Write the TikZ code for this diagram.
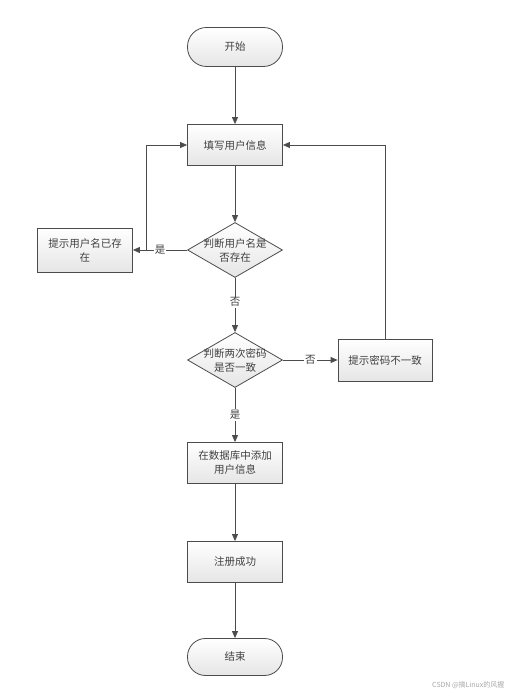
\documentclass[tikz,border=0pt]{standalone}
\usepackage{fontspec}
\newfontfamily\cjk{Noto Sans CJK SC}
\usetikzlibrary{shapes.geometric,shapes.misc,arrows.meta}
\begin{document}
\begin{tikzpicture}[x=1pt,y=1pt,
  every node/.style={font=\cjk\fontsize{10.5}{14}\selectfont, text=black!75},
  box/.style={draw=black!70, line width=0.8pt, minimum width=95pt, minimum height=41pt, align=center, inner sep=2pt, top color=white, bottom color=black!10},
  term/.style={draw=black!70, line width=0.8pt, rectangle, rounded corners=19pt, minimum width=95pt, minimum height=39pt, top color=white, bottom color=black!10},
  dec/.style={draw=black!70, line width=0.8pt, diamond, aspect=1.73, minimum width=95pt, minimum height=55pt, inner sep=-5pt, align=center, top color=white, bottom color=black!10},
  arr/.style={draw=black!70, line width=0.8pt, -{Triangle[length=7pt,width=6pt]}},
  lbl/.style={fill=white, inner sep=1pt}
]
\useasboundingbox (0,0) rectangle (513,696);
\node[term] (start) at (235,649) {开始};
\node[box] (fill) at (235,551) {填写用户信息};
\node[dec] (d1) at (235,446) {判断用户名是\\否存在};
\node[box, minimum width=95pt, minimum height=44pt] (exists) at (85,446) {提示用户名已存\\在};
\node[dec] (d2) at (235,336) {判断两次密码\\是否一致};
\node[box, minimum width=94pt, minimum height=42pt] (mismatch) at (385,336) {提示密码不一致};
\node[box] (add) at (235,233) {在数据库中添加\\用户信息};
\node[box] (ok) at (235,134) {注册成功};
\node[term, minimum height=37pt, rounded corners=18pt] (end) at (235,39) {结束};
\node[font=\cjk\fontsize{7}{8}\selectfont, text=black!35, anchor=east] (wm) at (508,11) {CSDN @搞Linux的风握};

\draw[arr] (start) -- (fill);
\draw[arr] (fill) -- (d1);
\draw[arr] (d1.west) -- node[lbl, pos=0.5]{是} (exists.east);
\coordinate (j1) at (146,446);
\draw[arr] (j1) |- (fill.west);
\draw[arr] (d1.south) -- node[lbl, pos=0.45]{否} (d2.north);
\draw[arr] (d2.east) -- node[lbl, pos=0.5]{否} (mismatch.west);
\draw[arr] (mismatch.north) |- (fill.east);
\draw[arr] (d2.south) -- node[lbl, pos=0.5]{是} (add.north);
\draw[arr] (add) -- (ok);
\draw[arr] (ok) -- (end);
\end{tikzpicture}
\end{document}
